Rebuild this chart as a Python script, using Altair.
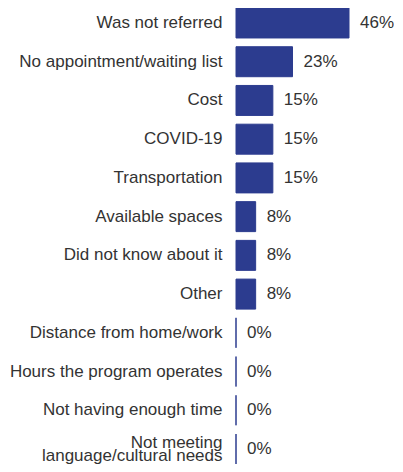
import altair as alt
import pandas as pd

categories = [
    "Was not referred",
    "No appointment/waiting list",
    "Cost",
    "COVID-19",
    "Transportation",
    "Available spaces",
    "Did not know about it",
    "Other",
    "Distance from home/work",
    "Hours the program operates",
    "Not having enough time",
    "Not meeting|language/cultural needs",
]
values = [46, 23, 15, 15, 15, 8, 8, 8, 0, 0, 0, 0]
labels = [f"{v}%" for v in values]

df = pd.DataFrame({"category": categories, "value": values, "label": labels})

BAR = "#2c3c8f"
TXT = "#333333"
FONT = "Liberation Sans"

y = alt.Y(
    "category:N",
    sort=None,
    title=None,
    scale=alt.Scale(paddingInner=0.226, paddingOuter=0),
    axis=alt.Axis(
        domain=False,
        ticks=False,
        grid=False,
        labelFont=FONT,
        labelFontSize=17,
        labelColor=TXT,
        labelPadding=14,
        labelLimit=400,
        labelLineHeight=13,
        labelExpr="split(datum.label, '|')",
        labelOffset={
            "condition": {"test": "indexof(datum.label, '|') >= 0", "value": -6.5},
            "value": 0,
        },
    ),
)
x = alt.X("value:Q", title=None, axis=None, scale=alt.Scale(domain=[0, 46], nice=False))

bars = alt.Chart(df).mark_bar(color=BAR, stroke=BAR, strokeWidth=1).encode(x=x, y=y)
text = alt.Chart(df).mark_text(
    align="left", baseline="middle", dx=11, font=FONT, fontSize=17, color=TXT
).encode(x=x, y=y, text="label:N")

chart = (
    alt.layer(bars, text)
    .properties(
        width=113,
        height=456,
        autosize=alt.AutoSizeParams(type="none"),
        padding={"left": 228, "top": 0, "right": 45, "bottom": 0},
    )
    .configure_view(stroke=None)
)

chart.save("out.html", embed_options={"renderer": "svg", "actions": False})
